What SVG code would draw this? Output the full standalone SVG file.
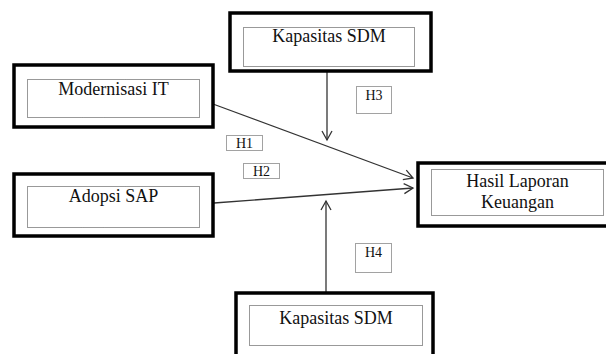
<svg xmlns="http://www.w3.org/2000/svg" width="606" height="354" viewBox="0 0 606 354">
<defs>
<style>
.outer{fill:#fff;stroke:#000;stroke-width:3.5}
.inner{fill:none;stroke:#333;stroke-width:1;stroke-dasharray:1,1}
.lbl{font-size:18px;fill:#111;text-anchor:middle}
.h{font-size:14px;fill:#111;text-anchor:middle}
.hbox{fill:#fff;stroke:#444;stroke-width:1;stroke-dasharray:1,1}
.conn{stroke:#333;stroke-width:1.3;fill:none}
</style>
<marker id="arr" markerUnits="userSpaceOnUse" markerWidth="12" markerHeight="12" refX="10" refY="6" orient="auto">
<path d="M1,1 L10,6 L1,11" fill="none" stroke="#333" stroke-width="1.3"/>
</marker>
</defs>
<rect width="606" height="354" fill="#fff"/>
<g id="connectors">
<line class="conn" x1="213" y1="104" x2="413" y2="178" marker-end="url(#arr)"/>
<line class="conn" x1="214" y1="203" x2="413" y2="188" marker-end="url(#arr)"/>
<line class="conn" x1="327" y1="72" x2="327" y2="140" marker-end="url(#arr)"/>
<line class="conn" x1="326" y1="292" x2="326" y2="201" marker-end="url(#arr)"/>
</g>
<g font-family="'Liberation Serif', 'Times New Roman', 'DejaVu Serif', serif">
<g id="modernisasi">
<rect class="outer" x="14" y="65" width="199" height="62"/>
<rect class="inner" x="27.5" y="79.5" width="172" height="38"/>
<text class="lbl" x="113.5" y="95">Modernisasi IT</text>
</g>
<g id="kapasitas-top">
<rect class="outer" x="230" y="13" width="201" height="58"/>
<rect class="inner" x="243.5" y="27.5" width="171" height="39"/>
<text class="lbl" x="329" y="42">Kapasitas SDM</text>
</g>
<g id="adopsi">
<rect class="outer" x="14" y="174" width="199" height="62"/>
<rect class="inner" x="27.5" y="186.5" width="172" height="41"/>
<text class="lbl" x="113.5" y="202">Adopsi SAP</text>
</g>
<g id="hasil">
<rect class="outer" x="418" y="163" width="200" height="63"/>
<rect class="inner" x="431.5" y="169.5" width="172" height="46"/>
<text class="lbl" x="517.5" y="187">Hasil Laporan</text>
<text class="lbl" x="517.5" y="208">Keuangan</text>
</g>
<g id="kapasitas-bottom">
<rect class="outer" x="236" y="293" width="197" height="70"/>
<rect class="inner" x="249.5" y="305.5" width="173" height="40"/>
<text class="lbl" x="336" y="324">Kapasitas SDM</text>
</g>
<g id="h1">
<rect class="hbox" x="226.5" y="135.5" width="36" height="15"/>
<text class="h" x="244.5" y="148">H1</text>
</g>
<g id="h2">
<rect class="hbox" x="243.5" y="163.5" width="36" height="15"/>
<text class="h" x="261.5" y="176">H2</text>
</g>
<g id="h3">
<rect class="hbox" x="356.5" y="86.5" width="35" height="27"/>
<text class="h" x="374" y="100">H3</text>
</g>
<g id="h4">
<rect class="hbox" x="355.5" y="243.5" width="36" height="29"/>
<text class="h" x="373.5" y="257">H4</text>
</g>
</g>
</svg>
